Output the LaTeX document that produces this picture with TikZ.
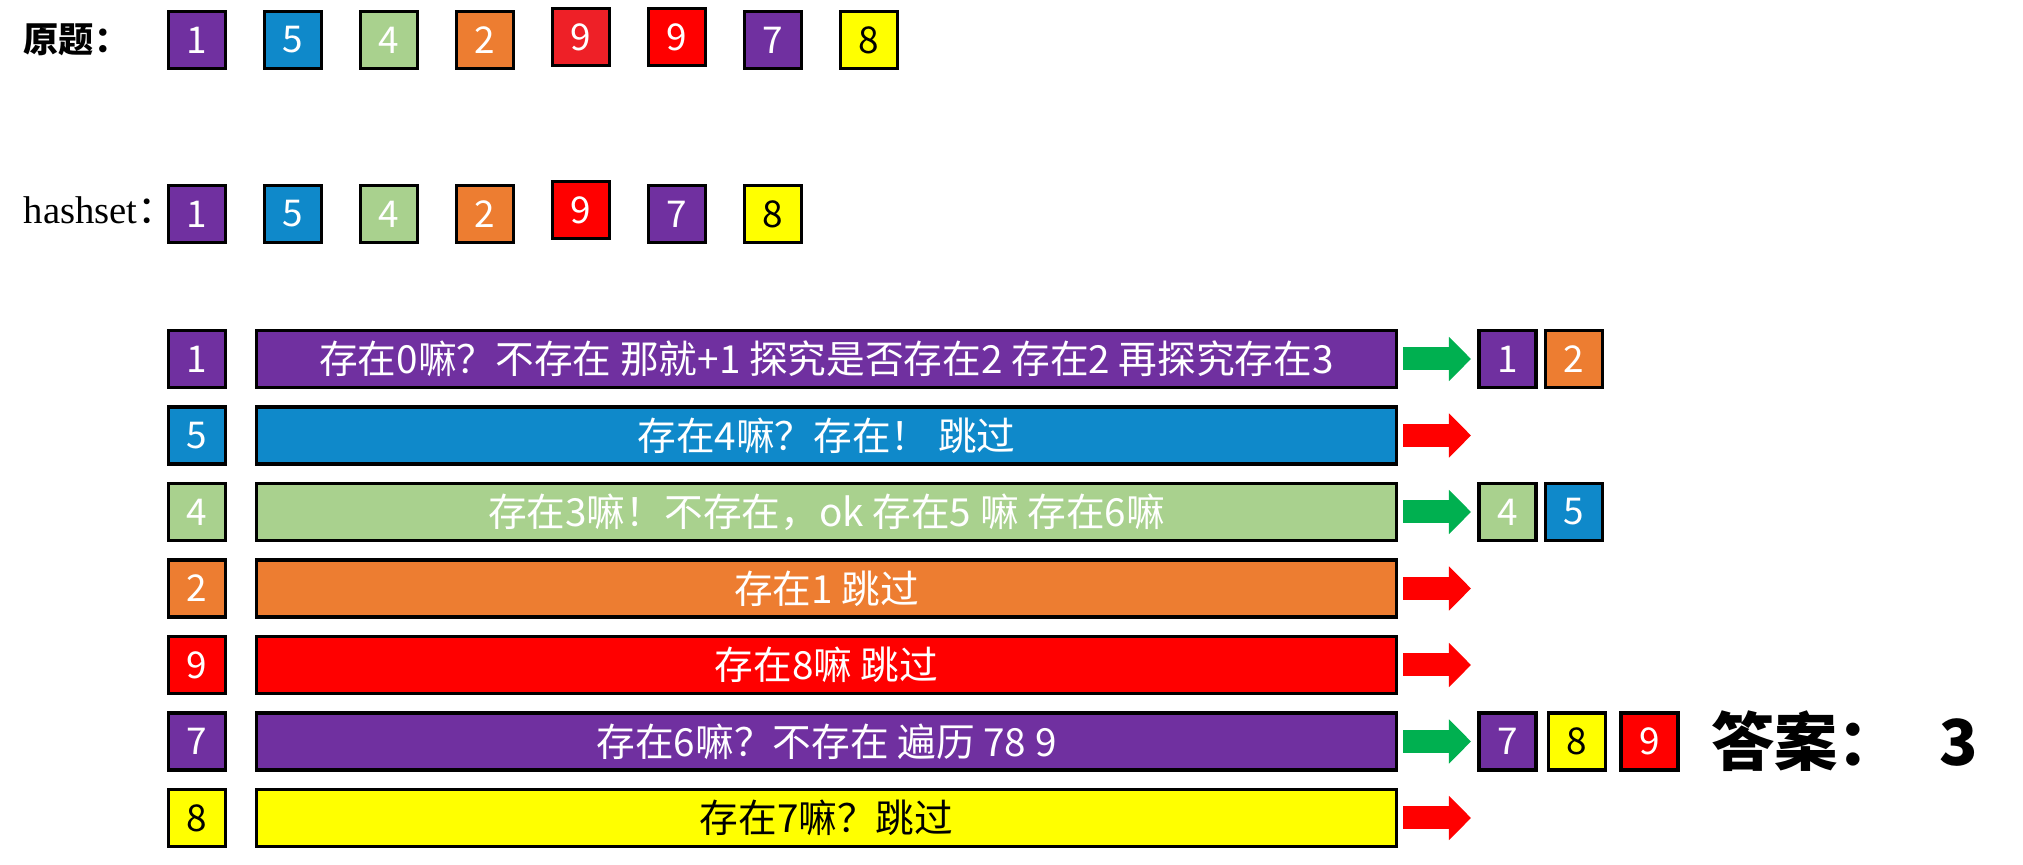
\documentclass[tikz,border=0pt]{standalone}
\usepackage{fontspec}
\usepackage{xcolor}
\usetikzlibrary{arrows.meta, positioning, calc}
\setmainfont{Liberation Serif}
\newfontfamily\cjk{Noto Sans CJK SC}
\definecolor{boxPurple}{HTML}{7030A0}
\definecolor{boxBlue}{HTML}{0F89CA}
\definecolor{boxGreen}{HTML}{A9D18E}
\definecolor{boxOrange}{HTML}{ED7D31}
\definecolor{boxRed}{HTML}{FF0000}
\definecolor{boxRedB}{HTML}{EE2027}
\definecolor{boxYellow}{HTML}{FFFF00}
\definecolor{arrGreen}{HTML}{00B050}

\begin{document}
\begin{tikzpicture}[x=0.01cm, y=-0.01cm,
    numbox/.style={draw, line width=1pt, minimum width=0.57cm, minimum height=0.57cm,
        inner sep=0pt, text=white, font=\cjk\fontsize{10.5}{12}\selectfont},
    bar/.style={numbox, minimum width=11.39cm, font=\cjk\fontsize{11}{12}\selectfont},
    fatarrow/.style={line width=0.23cm, shorten <=0.05cm,
        -{Triangle[length=0.22cm, width=0.43cm]}},
    heavy/.style={anchor=west, inner sep=0pt, font=\cjk\bfseries}]
    \useasboundingbox (0,0) rectangle (2023,865);

    % Original array
    \node[heavy, font=\cjk\bfseries\fontsize{10}{12}\selectfont] (orig) at (23,40) {原题：};
    \foreach \v/\c/\t/\dy [count=\i] in {1/boxPurple/white/0, 5/boxBlue/white/0,
        4/boxGreen/white/0, 2/boxOrange/white/0, 9/boxRedB/white/-3, 9/boxRed/white/-3,
        7/boxPurple/white/0, 8/boxYellow/black/0} {
        \node[numbox, fill=\c, text=\t] (o\i) at ({197+(\i-1)*96}, {40+\dy}) {\v};
    }

    % Hashset
    \node[anchor=west, inner sep=0pt, font=\fontsize{11}{13}\selectfont] (hs) at (23,210) {hashset{\cjk ：}};
    \foreach \v/\c/\t/\dy [count=\i] in {1/boxPurple/white/0, 5/boxBlue/white/0,
        4/boxGreen/white/0, 2/boxOrange/white/0, 9/boxRed/white/-4,
        7/boxPurple/white/0, 8/boxYellow/black/0} {
        \node[numbox, fill=\c, text=\t] (h\i) at ({197+(\i-1)*96}, {214+\dy}) {\v};
    }

    % One row per element
    \foreach \v/\c/\t/\txt [count=\i] in {
        1/boxPurple/white/{存在0嘛？不存在 那就+1 探究是否存在2 存在2 再探究存在3},
        5/boxBlue/white/{存在4嘛？存在！ 跳过},
        4/boxGreen/white/{存在3嘛！不存在，ok 存在5 嘛 存在6嘛},
        2/boxOrange/white/{存在1 跳过},
        9/boxRed/white/{存在8嘛 跳过},
        7/boxPurple/white/{存在6嘛？不存在 遍历 78 9},
        8/boxYellow/black/{存在7嘛？跳过}} {
        \pgfmathsetmacro{\y}{359+(\i-1)*76.5}
        \node[numbox, fill=\c, text=\t] (s\i) at (197,\y) {\v};
        \node[bar, fill=\c, text=\t] (b\i) at (826.5,\y) {\txt};
        \coordinate (e\i) at (1471,\y);
    }

    % Results of the runs
    \node[numbox, fill=boxPurple, anchor=west] (r1a) at ($(e1)+(6,0)$) {1};
    \node[numbox, fill=boxOrange, right=0.06cm of r1a] (r1b) {2};
    \node[numbox, fill=boxGreen, anchor=west] (r3a) at ($(e3)+(6,0)$) {4};
    \node[numbox, fill=boxBlue, right=0.06cm of r3a] (r3b) {5};
    \node[numbox, fill=boxPurple, anchor=west] (r6a) at ($(e6)+(6,0)$) {7};
    \node[numbox, fill=boxYellow, text=black, right=0.09cm of r6a] (r6b) {8};
    \node[numbox, fill=boxRed, right=0.12cm of r6b] (r6c) {9};

    % Arrows
    \draw[fatarrow, arrGreen, shorten >=0.06cm] (b1.east) -- (r1a.west);
    \draw[fatarrow, arrGreen, shorten >=0.06cm] (b3.east) -- (r3a.west);
    \draw[fatarrow, arrGreen, shorten >=0.06cm] (b6.east) -- (r6a.west);
    \foreach \i in {2,4,5,7} {
        \draw[fatarrow, boxRed] (b\i.east) -- (e\i);
    }

    % Answer
    \node[heavy, font=\cjk\bfseries\fontsize{18}{20}\selectfont, right=0.31cm of r6c] (ans) {答案：\hspace{0.6em}3};
\end{tikzpicture}
\end{document}
